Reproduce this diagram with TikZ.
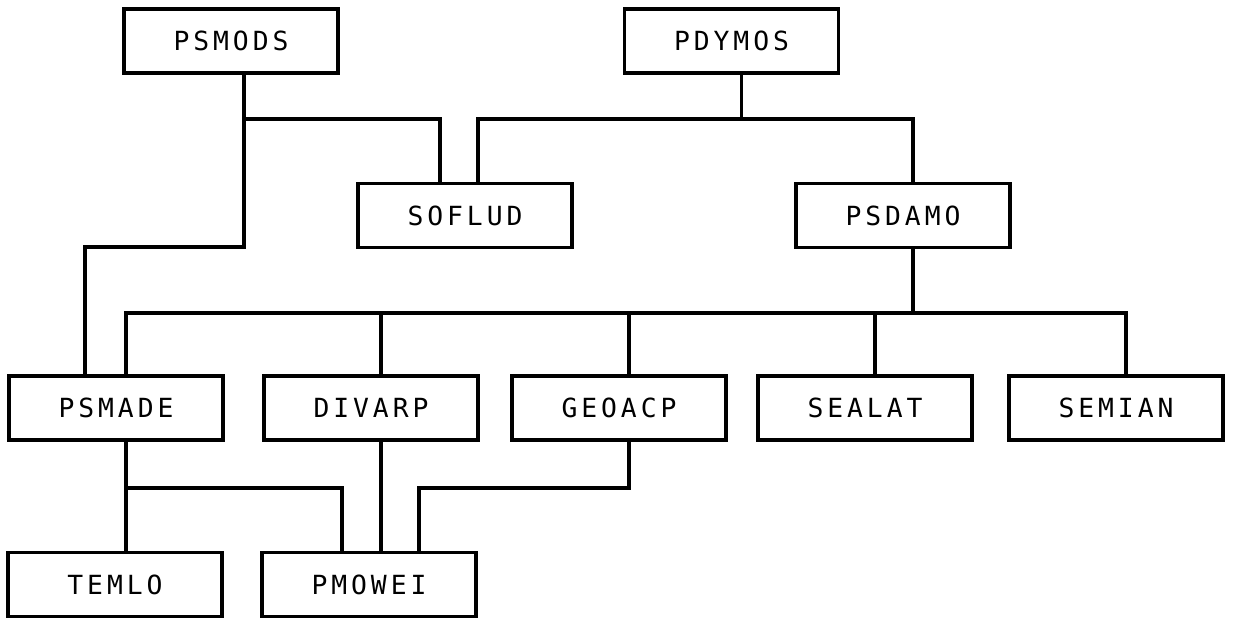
\documentclass[tikz,border=0pt]{standalone}
\usepackage{fontspec}
\usepackage{tikz}
\usetikzlibrary{calc}
\newfontfamily\plotfont[LetterSpace=15]{DejaVu Sans Mono}
\tikzset{
  modbox/.style={draw, line width=0.9pt, minimum width=2.14cm, minimum height=0.64cm,
    inner sep=0pt, font=\plotfont\fontsize{7.5}{9}\selectfont},
  link/.style={line width=0.9pt}
}

\begin{document}
\begin{tikzpicture}
        \useasboundingbox (0,0) rectangle (12.36,-6.18);
        % modules
        \node[modbox] (psmods) at (2.31,-0.41) {PSMODS};
        \node[modbox] (pdymos) at (7.315,-0.41) {PDYMOS};
        \node[modbox] (soflud) at (4.65,-2.155) {SOFLUD};
        \node[modbox] (psdamo) at (9.03,-2.155) {PSDAMO};
        \node[modbox] (psmade) at (1.16,-4.08) {PSMADE};
        \node[modbox] (divarp) at (3.71,-4.08) {DIVARP};
        \node[modbox] (geoacp) at (6.19,-4.08) {GEOACP};
        \node[modbox] (sealat) at (8.65,-4.08) {SEALAT};
        \node[modbox] (semian) at (11.16,-4.08) {SEMIAN};
        \node[modbox] (temlo) at (1.15,-5.845) {TEMLO};
        \node[modbox] (pmowei) at (3.69,-5.845) {PMOWEI};
        % bus heights
        \coordinate (topbus) at (0,-1.19);
        \coordinate (leftbend) at (0,-2.47);
        \coordinate (midbus) at (0,-3.13);
        \coordinate (lowbus) at (0,-4.88);
        % taps
        \coordinate (psmods-out) at ([xshift=1.3mm]psmods.south);
        \coordinate (pdymos-out) at ([xshift=1mm]pdymos.south);
        \coordinate (soflud-inl) at ([xshift=-2.5mm]soflud.north);
        \coordinate (soflud-inr) at ([xshift=1.3mm]soflud.north);
        \coordinate (psdamo-in) at ([xshift=1mm]psdamo.north);
        \coordinate (psdamo-out) at ([xshift=1mm]psdamo.south);
        \coordinate (psmade-inl) at ([xshift=-3.1mm]psmade.north);
        \coordinate (pmowei-inl) at ([xshift=-2.7mm]pmowei.north);
        \coordinate (pmowei-inr) at ([xshift=5mm]pmowei.north);
        \foreach \n in {psmade,divarp,geoacp,sealat,semian} {
          \coordinate (\n-in) at ([xshift=1mm]\n.north);
          \coordinate (\n-out) at ([xshift=1mm]\n.south);
        }
        % connections
        \draw[link] (psmods-out) -- (psmods-out |- leftbend) -| (psmade-inl);
        \draw[link] (psmods-out |- topbus) -| (soflud-inl);
        \draw[link] (pdymos-out) -- (pdymos-out |- topbus);
        \draw[link] (soflud-inr) |- (psdamo-in |- topbus) -- (psdamo-in);
        \draw[link] (psdamo-out) -- (psdamo-out |- midbus);
        \draw[link] (psmade-in) |- (semian-in |- midbus) -- (semian-in);
        \foreach \n in {divarp,geoacp,sealat}
          \draw[link] (\n-in |- midbus) -- (\n-in);
        \draw[link] (psmade-out) -- (psmade-out |- temlo.north);
        \draw[link] (psmade-out |- lowbus) -| (pmowei-inl);
        \draw[link] (divarp-out) -- (divarp-out |- pmowei.north);
        \draw[link] (geoacp-out) |- (pmowei-inr |- lowbus) -- (pmowei-inr);
    \end{tikzpicture}
\end{document}
